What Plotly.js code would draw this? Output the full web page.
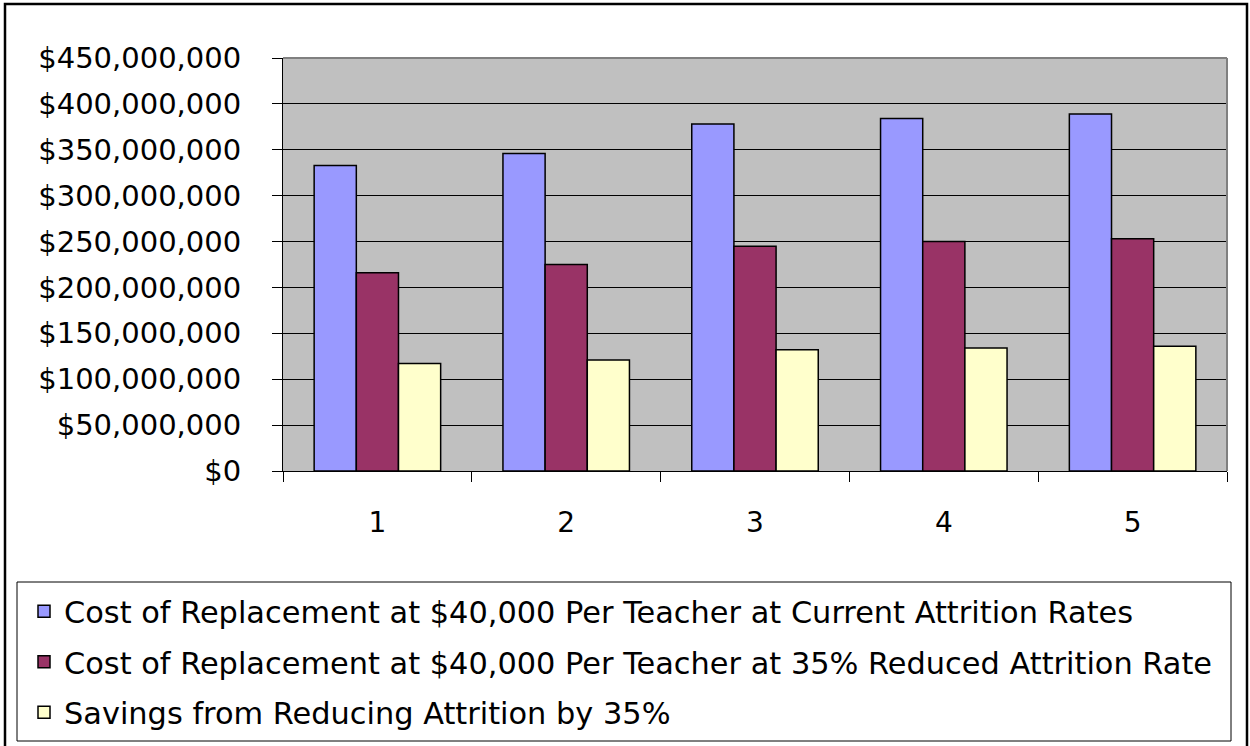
<!DOCTYPE html>
<html>
<head>
<meta charset="utf-8">
<script src="https://cdn.plot.ly/plotly-3.0.1.min.js"></script>
<style>html,body{margin:0;padding:0;background:#fff;}#chart{width:1250px;height:746px;}</style>
</head>
<body>
<div id="chart"></div>
<script>
// Data (values in dollars)
const years = ["1", "2", "3", "4", "5"];
const currentCost = [333e6, 346e6, 378e6, 384e6, 389e6];
const reducedCost = [216e6, 225e6, 245e6, 250e6, 253e6];
const savings = [117e6, 121e6, 132e6, 134e6, 136e6];
const seriesNames = [
  "Cost of Replacement at $40,000 Per Teacher at Current Attrition Rates",
  "Cost of Replacement at $40,000 Per Teacher at 35% Reduced Attrition Rate",
  "Savings from Reducing Attrition by 35%"
];
const yTickValues = [0, 50e6, 100e6, 150e6, 200e6, 250e6, 300e6, 350e6, 400e6, 450e6];
const yTickLabels = ["$0", "$50,000,000", "$100,000,000", "$150,000,000", "$200,000,000",
  "$250,000,000", "$300,000,000", "$350,000,000", "$400,000,000", "$450,000,000"];

const W = 1250, H = 746;
const L = 283, R = 1227, T = 58, B = 471;
const px = v => (v - L) / (R - L);
const py = v => (B - v) / (B - T);
const FONT = "DejaVu Sans, Arial, sans-serif";

function bar(y, name, color, group) {
  return {
    type: "bar", x: years, y: y, name: name, legendgroup: group,
    marker: {color: color, line: {color: "#000", width: 1.5}},
    hoverinfo: "y"
  };
}

const data = [
  bar(currentCost, seriesNames[0], "#9999FF", "a"),
  bar(reducedCost, seriesNames[1], "#993366", "b"),
  bar(savings, seriesNames[2], "#FFFFCC", "c")
];

const layout = {
  width: W, height: H,
  margin: {l: L, r: W - R, t: T, b: H - B, pad: 0, autoexpand: false},
  paper_bgcolor: "#fff",
  plot_bgcolor: "#C0C0C0",
  font: {family: FONT, size: 28, color: "#000"},
  barmode: "group",
  bargap: 0.33,
  bargroupgap: 0,
  showlegend: true,
  legend: {
    xref: "container", yref: "container",
    x: 24 / W, y: 1 - 585 / H, xanchor: "left", yanchor: "top",
    bgcolor: "rgba(0,0,0,0)", borderwidth: 0,
    font: {family: FONT, size: 30.4, color: "#000"},
    traceorder: "grouped", tracegroupgap: 8,
    itemclick: false, itemdoubleclick: false
  },
  xaxis: {
    type: "category", tickson: "boundaries", automargin: false,
    ticks: "outside", ticklen: 10, tickwidth: 1, tickcolor: "#000",
    showline: true, linecolor: "#000", linewidth: 1,
    showgrid: false, zeroline: false, tickangle: 0,
    ticklabelstandoff: 26,
    tickfont: {family: FONT, size: 28, color: "#000"},
    fixedrange: true
  },
  yaxis: {
    range: [0, 450e6], tickmode: "array", tickvals: yTickValues, ticktext: yTickLabels,
    automargin: false,
    ticks: "outside", ticklen: 10, tickwidth: 1, tickcolor: "#000",
    showline: true, linecolor: "#000", linewidth: 1,
    showgrid: true, gridcolor: "#000", gridwidth: 1,
    zeroline: false,
    ticklabelstandoff: 25,
    tickfont: {family: FONT, size: 29, color: "#000"},
    fixedrange: true
  },
  shapes: [
    {type: "line", xref: "paper", yref: "paper", x0: 0, x1: 1, y0: 1, y1: 1, line: {color: "#808080", width: 2}},
    {type: "line", xref: "paper", yref: "paper", x0: 1, x1: 1, y0: 0, y1: 1, line: {color: "#808080", width: 2}},
    {type: "rect", xref: "paper", yref: "paper", x0: px(17), x1: px(1231), y0: py(582), y1: py(741),
     line: {color: "#000", width: 1}, fillcolor: "rgba(0,0,0,0)"},
    {type: "rect", xref: "paper", yref: "paper", x0: px(5), x1: px(1247), y0: py(4), y1: py(752),
     line: {color: "#000", width: 2.5}, fillcolor: "rgba(0,0,0,0)"}
  ]
};

Plotly.newPlot("chart", data, layout, {displayModeBar: false, staticPlot: true});
</script>
</body>
</html>
